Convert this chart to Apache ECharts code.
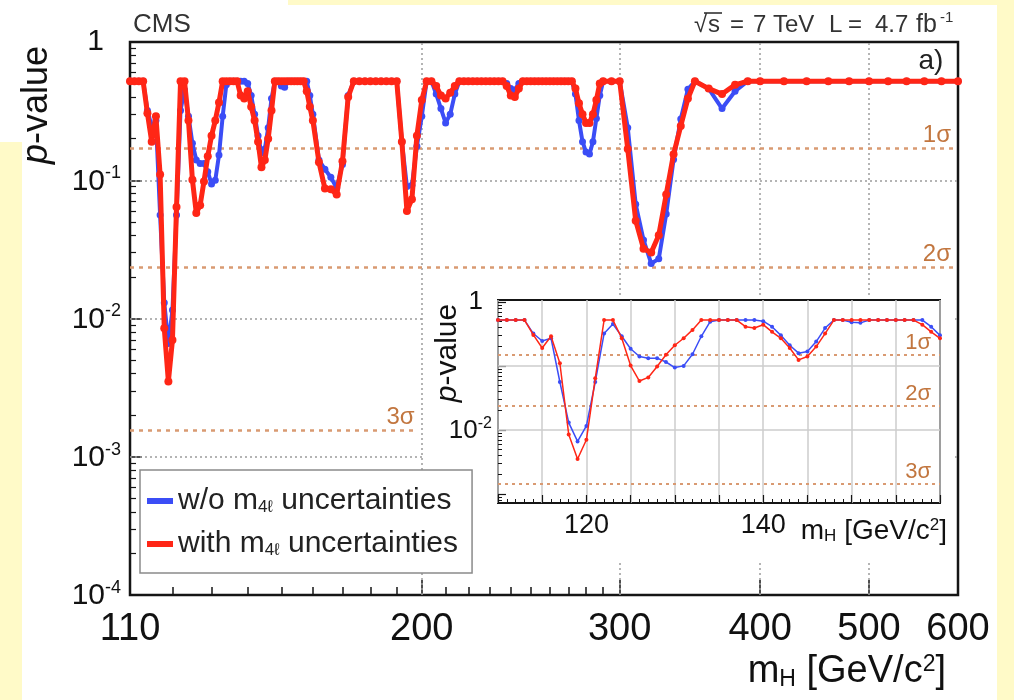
<!DOCTYPE html>
<html>
<head>
<meta charset="utf-8">
<title>CMS p-value vs mH</title>
<script src="https://cdn.jsdelivr.net/npm/echarts@6.0.0/dist/echarts.min.js"></script>
<style>
html,body{margin:0;padding:0;background:#ffffff;}
#chart{width:1014px;height:700px;}
</style>
</head>
<body>
<div id="chart"></div>
<script>
// ---------------- data ----------------
const massLow = [110,111,112,113,114,115,116,117,118,119,120,121,122,123,124,125,126,127,128,129,130,
  131,132,133,134,135,136,137,138,139,140,141,142,143,144,145,146,147,148,149,150,
  151,152,153,154,155,156,157,158,159,160];
const pBlueLow = [0.52,0.52,0.52,0.52,0.32,0.245,0.27,0.056,0.013,0.0066,0.0115,0.056,0.32,0.45,0.29,0.185,0.14,0.132,0.132,0.115,0.094,
  0.10,0.152,0.29,0.49,0.52,0.52,0.52,0.52,0.52,0.50,0.41,0.30,0.21,0.158,0.168,0.24,0.39,0.52,0.52,0.48,
  0.47,0.52,0.52,0.52,0.52,0.52,0.52,0.52,0.41,0.30];
const pRedLow = [0.52,0.52,0.52,0.52,0.305,0.19,0.29,0.11,0.0085,0.0035,0.0070,0.064,0.52,0.52,0.27,0.101,0.058,0.066,0.098,0.149,0.21,
  0.27,0.365,0.52,0.52,0.52,0.52,0.52,0.41,0.39,0.44,0.34,0.27,0.19,0.124,0.14,0.20,0.32,0.52,0.52,0.52,
  0.52,0.52,0.52,0.52,0.52,0.52,0.52,0.44,0.34,0.27];
const massHigh = [162,164,166,168,170,172,174,176,178,180,182,184,186,188,190,192,194,196,198,200,
  202,204,206,208,210,212,214,216,218,220,222,224,226,228,230,232,234,236,238,240,
  242,244,246,248,250,252,254,256,258,260,262,264,266,268,270,272,274,276,278,280,
  282,284,286,288,290,295,300,305,310,315,320,325,330,335,340,345,350,360,370,380,
  390,400,420,440,460,480,500,520,540,560,580,600];
const pBlueHigh = [0.14,0.12,0.105,0.088,0.13,0.41,0.52,0.52,0.52,0.52,0.52,0.52,0.52,0.52,0.52,0.19,0.09,0.092,0.176,0.29,
  0.52,0.52,0.42,0.33,0.26,0.30,0.42,0.52,0.52,0.52,0.52,0.52,0.52,0.52,0.52,0.52,0.52,0.52,0.50,0.46,
  0.45,0.50,0.52,0.52,0.52,0.52,0.52,0.52,0.52,0.52,0.52,0.52,0.52,0.52,0.52,0.52,0.42,0.27,0.19,0.16,
  0.155,0.19,0.28,0.41,0.52,0.52,0.52,0.24,0.067,0.037,0.025,0.027,0.057,0.141,0.277,0.455,0.52,0.46,0.33,0.44,
  0.52,0.52,0.52,0.52,0.52,0.52,0.52,0.52,0.52,0.52,0.52,0.52];
const pRedHigh = [0.135,0.087,0.086,0.079,0.137,0.40,0.52,0.52,0.52,0.52,0.52,0.52,0.52,0.52,0.52,0.19,0.06,0.073,0.21,0.38,
  0.52,0.52,0.48,0.41,0.39,0.43,0.48,0.52,0.52,0.52,0.52,0.52,0.52,0.52,0.52,0.52,0.52,0.52,0.48,0.41,
  0.40,0.46,0.52,0.52,0.52,0.52,0.52,0.52,0.52,0.52,0.52,0.52,0.52,0.52,0.52,0.52,0.46,0.36,0.30,0.26,
  0.26,0.30,0.38,0.50,0.52,0.52,0.52,0.168,0.051,0.032,0.030,0.040,0.079,0.154,0.247,0.39,0.52,0.46,0.42,0.49,
  0.52,0.52,0.52,0.52,0.52,0.52,0.52,0.52,0.52,0.52,0.52,0.52];
const xTickLabels = [110, 200, 300, 400, 500, 600];
const xMajorTicks = [200, 300, 400, 500];
const xMinorTicks = [120,130,140,150,160,170,180,190,210,220,230,240,250,260,270,280,290];
const insetXTickLabels = [120, 140];
const insetYTickLabels = [0.01, 1];
const insetYMajorTicks = [0.001, 0.01, 0.1, 1];
const sigmaNames = ['1σ', '2σ', '3σ'];
const sigmaMain = [0.17, 0.0236, 0.00156];
const sigmaInset = [0.15, 0.0235, 0.00145];
const legendNames = ['w/o', 'with'];

// ---------------- styling ----------------
const FONT = '"Liberation Sans", Arial, Helvetica, sans-serif';
const BLUE = '#3b4df6', RED = '#ff2616';
const SIG_LINE = '#d99a72', SIG_TEXT = '#c2763f', GRID_DOT = '#9c9c9c', INK = '#151515';
const YELLOW = '#fffac8';

const toPairs = (ms, ps) => ms.map((m, i) => [m, ps[i]]);
const massAll = massLow.concat(massHigh);
const mainBlue = toPairs(massAll, pBlueLow.concat(pBlueHigh));
const mainRed = toPairs(massAll, pRedLow.concat(pRedHigh));
const insetBlue = toPairs(massLow, pBlueLow);
const insetRed = toPairs(massLow, pRedLow);

function minorLogTicks(eLo, eHi) {
  const out = [];
  for (let e = eLo; e < eHi; e++) {
    for (let k = 2; k <= 9; k++) out.push(+(k * Math.pow(10, e)).toPrecision(6));
  }
  return out;
}
function decadeLabel(v) {
  const lg = Math.log10(v);
  const e = Math.round(lg);
  if (Math.abs(lg - e) > 1e-6) return '';
  return e === 0 ? '{one|1}' : '{b|10}{s|' + e + '}';
}
const sigStyleMain = {color: SIG_LINE, width: 2.5, type: [4, 5]};
const sigLabelMain = (t) => ({show: true, position: 'insideEndTop', formatter: t, color: SIG_TEXT,
  fontSize: 24, fontFamily: FONT, distance: 1, padding: [0, 6, 0, 0]});
const sigStyleInset = {color: SIG_LINE, width: 2, type: [3, 4]};
const sigLabelInset = (t) => ({show: true, position: 'insideEndTop', formatter: t, color: SIG_TEXT,
  fontSize: 22, fontFamily: FONT, distance: 1, padding: [0, 8, 0, 0]});
const dotGrid = {color: GRID_DOT, width: 1.5, type: [2, 3]};
const insetGrid = {color: '#cccccc', width: 1.5, type: 'solid'};

const txt = (x, y, text, size, extra) => Object.assign({type: 'text', zlevel: 0, z: 10, x: x, y: y, silent: true,
  style: {text: text, fontSize: size, fontFamily: FONT, fill: '#333', align: 'left', verticalAlign: 'middle',
    textAlign: 'left', textVerticalAlign: 'middle'}}, extra || {});

const chart = echarts.init(document.getElementById('chart'));
const option = {
  animation: false,
  backgroundColor: '#ffffff',
  textStyle: {fontFamily: FONT},
  grid: [
    {left: 130, top: 42, width: 828, height: 553, show: true, borderColor: INK, borderWidth: 2.5, backgroundColor: 'transparent'},
    {left: 498, top: 300, width: 442, height: 203, show: true, borderColor: INK, borderWidth: 2, backgroundColor: '#ffffff', zlevel: 2}
  ],
  xAxis: [
    {gridIndex: 0, type: 'log', min: 110, max: 600, position: 'bottom',
      axisLine: {show: false}, splitLine: {show: false},
      axisTick: {show: true, inside: true, length: 15, customValues: xMajorTicks, lineStyle: {color: INK, width: 1.5}},
      axisLabel: {customValues: xTickLabels, fontSize: 38, margin: 16, color: '#111', fontFamily: FONT}},
    {gridIndex: 0, type: 'log', min: 110, max: 600, position: 'bottom',
      axisLine: {show: false}, splitLine: {show: false}, axisLabel: {show: false},
      axisTick: {show: true, inside: true, length: 8, customValues: xMinorTicks, lineStyle: {color: INK, width: 1.5}}},
    {gridIndex: 1, type: 'value', min: 110, max: 160, interval: 5, position: 'bottom', zlevel: 2,
      axisLine: {show: false},
      splitLine: {show: true, lineStyle: insetGrid},
      axisTick: {show: true, inside: true, length: 8, lineStyle: {color: INK, width: 1.2}},
      minorTick: {show: true, splitNumber: 5, length: 4, lineStyle: {color: INK, width: 1}},
      axisLabel: {fontSize: 27, margin: 9, color: '#111', fontFamily: FONT,
        formatter: v => insetXTickLabels.indexOf(v) >= 0 ? String(v) : ''}}
  ],
  yAxis: [
    {gridIndex: 0, type: 'log', min: 1e-4, max: 1, position: 'left',
      axisLine: {show: false}, splitLine: {show: false},
      axisTick: {show: true, inside: true, length: 12, lineStyle: {color: INK, width: 1.5}},
      axisLabel: {formatter: decadeLabel, margin: 9, color: '#111',
        rich: {
          b: {fontSize: 30, fontFamily: FONT, color: '#111', lineHeight: 32, verticalAlign: 'bottom'},
          s: {fontSize: 18, fontFamily: FONT, color: '#111', lineHeight: 18, verticalAlign: 'top'},
          one: {fontSize: 30, fontFamily: FONT, color: '#111', lineHeight: 32, padding: [0, 17, 0, 0]}
        }}},
    {gridIndex: 0, type: 'log', min: 1e-4, max: 1, position: 'left',
      axisLine: {show: false}, splitLine: {show: false}, axisLabel: {show: false},
      axisTick: {show: true, inside: true, length: 6, customValues: minorLogTicks(-4, 0), lineStyle: {color: INK, width: 1.2}}},
    {gridIndex: 1, type: 'log', min: 7.2e-4, max: 1.07, position: 'left', zlevel: 2,
      axisLine: {show: false}, splitLine: {show: false},
      axisTick: {show: true, inside: true, length: 8, customValues: insetYMajorTicks, lineStyle: {color: INK, width: 1.2}},
      axisLabel: {customValues: insetYTickLabels, formatter: decadeLabel, margin: 6, color: '#111',
        rich: {
          b: {fontSize: 26, fontFamily: FONT, color: '#111', lineHeight: 28, verticalAlign: 'bottom'},
          s: {fontSize: 16, fontFamily: FONT, color: '#111', lineHeight: 16, verticalAlign: 'top'},
          one: {fontSize: 26, fontFamily: FONT, color: '#111', lineHeight: 28, padding: [0, 9, 0, 0]}
        }}},
    {gridIndex: 1, type: 'log', min: 7.2e-4, max: 1.07, position: 'left', zlevel: 2,
      axisLine: {show: false}, splitLine: {show: false}, axisLabel: {show: false},
      axisTick: {show: true, inside: true, length: 4, customValues: [8e-4, 9e-4].concat(minorLogTicks(-3, 0)), lineStyle: {color: INK, width: 1}}}
  ],
  legend: {
    zlevel: 2, z: 10,
    data: legendNames,
    orient: 'vertical', left: 140, top: 470,
    padding: [16, 14, 14, 7], itemGap: 13,
    itemWidth: 26, itemHeight: 6, icon: 'rect',
    backgroundColor: '#ffffff', borderColor: '#8a8a8a', borderWidth: 1.5, borderRadius: 0,
    selectedMode: false,
    formatter: n => n + ' m{sub|4ℓ} uncertainties',
    textStyle: {fontFamily: FONT, fontSize: 30, color: '#222',
      rich: {sub: {fontSize: 17, fontFamily: FONT, color: '#222', lineHeight: 17, verticalAlign: 'bottom'}}}
  },
  graphic: {
    elements: [
      {type: 'rect', zlevel: 0, z: 0, silent: true, shape: {x: 288, y: 0, width: 726, height: 5}, style: {fill: YELLOW}},
      {type: 'rect', zlevel: 0, z: 0, silent: true, shape: {x: 0, y: 142, width: 22, height: 558}, style: {fill: YELLOW}},
      {type: 'rect', zlevel: 0, z: 0, silent: true, shape: {x: 997, y: 0, width: 17, height: 700}, style: {fill: YELLOW}},
      // white pad behind the inset
      {type: 'rect', zlevel: 1, z: 0, silent: true, shape: {x: 424, y: 297, width: 531, height: 265}, style: {fill: '#ffffff'}},
      txt(133, 25, 'CMS', 26),
      // energy / luminosity text, placed piece by piece like the reference spacing
      txt(694, 25, '√', 24),
      txt(708, 25, 's', 24),
      {type: 'line', zlevel: 0, z: 10, silent: true, shape: {x1: 704, y1: 13, x2: 722, y2: 13}, style: {stroke: '#333', lineWidth: 1.6}},
      txt(730, 25, '=', 24),
      txt(753, 25, '7', 24),
      txt(773, 25, 'TeV', 24),
      txt(829, 25, 'L', 24),
      txt(848, 25, '=', 24),
      txt(875, 25, '4.7', 24),
      txt(916, 25, 'fb', 25),
      txt(940, 18, '-1', 15),
      txt(931, 61, 'a)', 28, {style: {text: 'a)', fontSize: 28, fontFamily: FONT, fill: '#222', align: 'center', verticalAlign: 'middle', textAlign: 'center', textVerticalAlign: 'middle'}}),
      {type: 'text', zlevel: 0, z: 10, x: 37, y: 105, rotation: Math.PI / 2, silent: true,
        style: {text: '{i|p}-value', fontSize: 36, fontFamily: FONT, fill: '#111', align: 'center', verticalAlign: 'middle', textAlign: 'center', textVerticalAlign: 'middle',
          rich: {i: {fontSize: 36, fontFamily: FONT, fontStyle: 'italic', fill: '#111'}}}},
      {type: 'text', zlevel: 0, z: 10, x: 946, y: 672, silent: true,
        style: {text: 'm{sub|H} [GeV/c{sup|2}]', fontSize: 38, fontFamily: FONT, fill: '#111', align: 'right', verticalAlign: 'middle', textAlign: 'right', textVerticalAlign: 'middle',
          rich: {sub: {fontSize: 23, fontFamily: FONT, fill: '#111', verticalAlign: 'bottom', lineHeight: 23},
                 sup: {fontSize: 23, fontFamily: FONT, fill: '#111', verticalAlign: 'top', lineHeight: 23}}}},
      {type: 'text', zlevel: 2, z: 10, x: 448, y: 353, rotation: Math.PI / 2, silent: true,
        style: {text: '{i|p}-value', fontSize: 30, fontFamily: FONT, fill: '#111', align: 'center', verticalAlign: 'middle', textAlign: 'center', textVerticalAlign: 'middle',
          rich: {i: {fontSize: 30, fontFamily: FONT, fontStyle: 'italic', fill: '#111'}}}},
      {type: 'text', zlevel: 2, z: 10, x: 947, y: 531, silent: true,
        style: {text: 'm{sub|H} [GeV/c{sup|2}]', fontSize: 28, fontFamily: FONT, fill: '#111', align: 'right', verticalAlign: 'middle', textAlign: 'right', textVerticalAlign: 'middle',
          rich: {sub: {fontSize: 17, fontFamily: FONT, fill: '#111', verticalAlign: 'bottom', lineHeight: 17},
                 sup: {fontSize: 17, fontFamily: FONT, fill: '#111', verticalAlign: 'top', lineHeight: 17}}}}
    ]
  },
  series: [
    {name: 'mainGuides', type: 'line', xAxisIndex: 0, yAxisIndex: 0, data: [[300, 0.52]], showSymbol: false,
      lineStyle: {opacity: 0}, silent: true, z: 1,
      markLine: {silent: true, symbol: ['none', 'none'], precision: 10, zlevel: 0, z: 1, animation: false, label: {show: false},
        data: [
          {xAxis: 200, lineStyle: dotGrid}, {xAxis: 300, lineStyle: dotGrid}, {xAxis: 400, lineStyle: dotGrid}, {xAxis: 500, lineStyle: dotGrid},
          {yAxis: 0.1, lineStyle: dotGrid}, {yAxis: 0.01, lineStyle: dotGrid}, {yAxis: 0.001, lineStyle: dotGrid},
          {yAxis: sigmaMain[0], lineStyle: sigStyleMain, label: sigLabelMain(sigmaNames[0])},
          {yAxis: sigmaMain[1], lineStyle: sigStyleMain, label: sigLabelMain(sigmaNames[1])},
          [{coord: [110, sigmaMain[2]], lineStyle: sigStyleMain, label: Object.assign(sigLabelMain(sigmaNames[2]), {padding: [0, 0, 0, 0]})},
           {coord: [197.5, sigmaMain[2]]}]
        ]}},
    {name: 'w/o', type: 'line', xAxisIndex: 0, yAxisIndex: 0, data: mainBlue, z: 3,
      color: BLUE, symbol: 'circle', symbolSize: 7, showAllSymbol: true,
      itemStyle: {color: BLUE}, lineStyle: {color: BLUE, width: 4}},
    {name: 'with', type: 'line', xAxisIndex: 0, yAxisIndex: 0, data: mainRed, z: 4,
      color: RED, symbol: 'circle', symbolSize: 8, showAllSymbol: true,
      itemStyle: {color: RED}, lineStyle: {color: RED, width: 5}},
    {name: 'insetGuides', type: 'line', xAxisIndex: 2, yAxisIndex: 2, zlevel: 2, data: [[135, 0.52]], showSymbol: false,
      lineStyle: {opacity: 0}, silent: true, z: 1,
      markLine: {silent: true, symbol: ['none', 'none'], precision: 10, zlevel: 2, z: 1, animation: false, label: {show: false},
        data: [
          {yAxis: 0.1, lineStyle: insetGrid}, {yAxis: 0.01, lineStyle: insetGrid},
          {yAxis: sigmaInset[0], lineStyle: sigStyleInset, label: sigLabelInset(sigmaNames[0])},
          {yAxis: sigmaInset[1], lineStyle: sigStyleInset, label: sigLabelInset(sigmaNames[1])},
          {yAxis: sigmaInset[2], lineStyle: sigStyleInset, label: sigLabelInset(sigmaNames[2])}
        ]}},
    {name: 'w/o (zoom)', type: 'line', xAxisIndex: 2, yAxisIndex: 2, zlevel: 2, data: insetBlue, z: 3,
      color: BLUE, symbol: 'circle', symbolSize: 4, showAllSymbol: true,
      itemStyle: {color: BLUE}, lineStyle: {color: BLUE, width: 1.5}},
    {name: 'with (zoom)', type: 'line', xAxisIndex: 2, yAxisIndex: 2, zlevel: 2, data: insetRed, z: 4,
      color: RED, symbol: 'circle', symbolSize: 4, showAllSymbol: true,
      itemStyle: {color: RED}, lineStyle: {color: RED, width: 1.5}}
  ]
};
chart.setOption(option);
</script>
</body>
</html>
